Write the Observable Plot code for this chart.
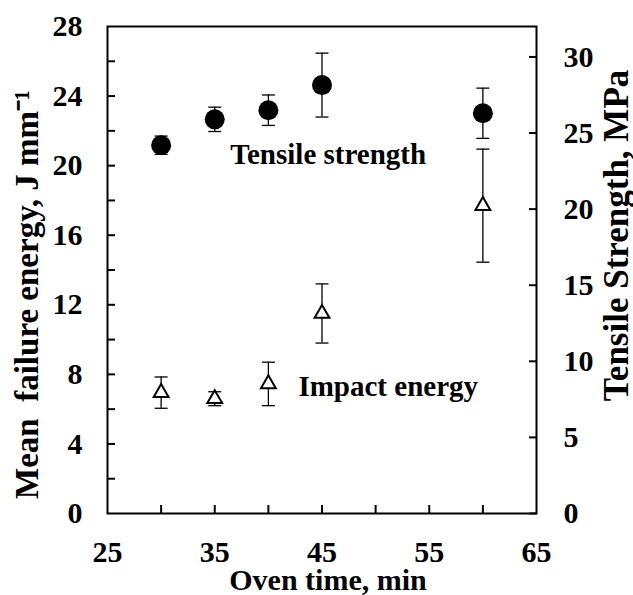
<!DOCTYPE html>
<html><head><meta charset="utf-8">
<script src="https://cdn.jsdelivr.net/npm/d3@7"></script>
<script src="https://cdn.jsdelivr.net/npm/@observablehq/plot@0.6"></script>
<style>
body{margin:0;background:#fff}
#chart svg text{font-family:"Liberation Serif","Times New Roman",serif;font-weight:bold}
</style>
</head><body><div id="chart"></div>
<script>
// Data
const ovenTime = [30, 35, 40, 45, 60];                 // min
const tensileStrength = [24.2, 25.9, 26.5, 28.15, 26.3]; // MPa (right axis)
const tensileSd = [0.6, 0.8, 1.0, 2.1, 1.65];
const impactEnergy = [6.95, 6.6, 7.45, 11.5, 17.7];   // J mm^-1 (left axis)
const impactSd = [0.9, 0.4, 1.25, 1.7, 3.25];

const xTickLabels = [25, 35, 45, 55, 65];
const xTickMarks = [30, 35, 40, 45, 50, 55, 60];
const leftTickLabels = [0, 4, 8, 12, 16, 20, 24, 28];
const leftTickMarks = [2, 4, 6, 8, 10, 12, 14, 16, 18, 20, 22, 24, 26];
const rightTickLabels = [0, 5, 10, 15, 20, 25, 30];

const annotationText = ["Tensile strength", "Impact energy"];
const annotationX = [36.45, 42.8];
const annotationY = [20.6, 7.3];

const xLabel = "Oven time, min";
const yLeftLabel = "Mean\u00A0 failure energy, J mm\u207B\u00B9";
const yRightLabel = "Tensile Strength, MPa";

const leftMax = 28, rightMax = 32;
const k = leftMax / rightMax; // right-axis value -> left-axis units

const idx = d3.range(ovenTime.length);
const capSymbol = {draw(ctx, size) { const h = Math.sqrt(size / Math.PI); ctx.moveTo(-h, 0); ctx.lineTo(h, 0); }};
const font = '"Liberation Serif","Times New Roman",serif';

const chart = Plot.plot({
  width: 633, height: 595,
  marginLeft: 107, marginRight: 97, marginTop: 26, marginBottom: 82,
  style: {fontFamily: font, fontWeight: "bold", fontSize: "30px", color: "#000", background: "#fff", overflow: "visible"},
  x: {domain: [25, 65]},
  y: {domain: [0, leftMax]},
  marks: [
    Plot.axisX(xTickMarks, {tickSize: -8, strokeWidth: 2, tickFormat: () => "", label: null}),
    Plot.axisX(xTickLabels, {tickSize: 0, tickPadding: 27, label: null, fontSize: 30}),
    Plot.axisY(leftTickMarks, {anchor: "left", tickSize: -8, strokeWidth: 2, tickFormat: () => "", label: null}),
    Plot.axisY(leftTickLabels, {anchor: "left", tickSize: 0, tickPadding: 25, label: null, fontSize: 30}),
    Plot.axisY(rightTickLabels.map(v => v * k), {anchor: "right", tickSize: -8, strokeWidth: 2, tickFormat: () => "", label: null}),
    Plot.axisY(rightTickLabels.map(v => v * k), {anchor: "right", tickSize: 0, tickPadding: 27, tickFormat: v => String(Math.round(v / k)), label: null, fontSize: 30}),
    Plot.frame({strokeWidth: 2, stroke: "#000"}),
    // error bars
    Plot.ruleX(idx, {x: i => ovenTime[i], y1: i => (tensileStrength[i] - tensileSd[i]) * k, y2: i => (tensileStrength[i] + tensileSd[i]) * k, stroke: "#000", strokeWidth: 1.3}),
    Plot.dot(idx, {x: i => ovenTime[i], y: i => (tensileStrength[i] - tensileSd[i]) * k, symbol: capSymbol, r: 6.5, stroke: "#000", fill: "none", strokeWidth: 1.3}),
    Plot.dot(idx, {x: i => ovenTime[i], y: i => (tensileStrength[i] + tensileSd[i]) * k, symbol: capSymbol, r: 6.5, stroke: "#000", fill: "none", strokeWidth: 1.3}),
    Plot.ruleX(idx, {x: i => ovenTime[i], y1: i => impactEnergy[i] - impactSd[i], y2: i => impactEnergy[i] + impactSd[i], stroke: "#000", strokeWidth: 1.3}),
    Plot.dot(idx, {x: i => ovenTime[i], y: i => impactEnergy[i] - impactSd[i], symbol: capSymbol, r: 6.5, stroke: "#000", fill: "none", strokeWidth: 1.3}),
    Plot.dot(idx, {x: i => ovenTime[i], y: i => impactEnergy[i] + impactSd[i], symbol: capSymbol, r: 6.5, stroke: "#000", fill: "none", strokeWidth: 1.3}),
    // markers
    Plot.dot(idx, {x: i => ovenTime[i], y: i => tensileStrength[i] * k, r: 10, fill: "#000", stroke: null}),
    Plot.dot(idx, {x: i => ovenTime[i], y: i => impactEnergy[i], symbol: "triangle", r: 5.5, fill: "#fff", stroke: "#000", strokeWidth: 2}),
    // annotations
    Plot.text(annotationText, {x: (d, i) => annotationX[i], y: (d, i) => annotationY[i], text: d => d, textAnchor: "start", lineAnchor: "middle", fontSize: 29, fontWeight: "bold"}),
    // axis titles
    Plot.text([xLabel], {frameAnchor: "bottom", text: d => d, textAnchor: "middle", dx: 6, dy: 67, lineAnchor: "middle", fontSize: 30, fontWeight: "bold"}),
    Plot.text([yLeftLabel], {frameAnchor: "left", text: d => d, rotate: -90, textAnchor: "middle", dx: -80.5, dy: 24.5, lineAnchor: "middle", fontSize: 33, fontWeight: "bold"}),
    Plot.text([yRightLabel], {frameAnchor: "right", text: d => d, rotate: -90, textAnchor: "middle", dx: 80, dy: -34.5, lineAnchor: "middle", fontSize: 35, fontWeight: "bold"})
  ]
});
document.getElementById("chart").appendChild(chart);
</script>
</body></html>
